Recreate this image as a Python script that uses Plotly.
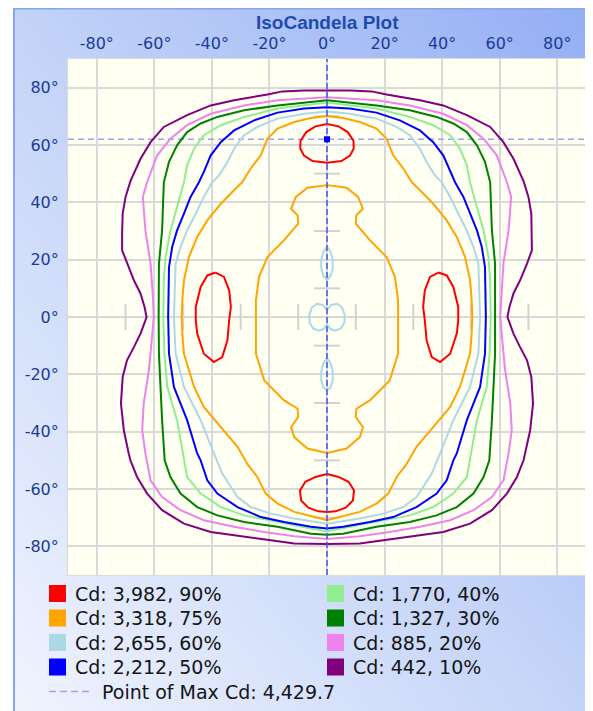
import base64
import plotly.graph_objects as go

# ---------------- data ----------------
level_cd = [3982, 3318, 2655, 2212, 1770, 1327, 885, 442]
level_pct = [90, 75, 60, 50, 40, 30, 20, 10]
level_color = ["#ff0000", "#ffa500", "#add8e6", "#0000ff", "#90ee90", "#008000", "#ee82ee", "#800080"]
max_cd = 4429.7
max_point_h = 0.0
max_point_v = 62.0

axis_ticks = [-80, -60, -40, -20, 0, 20, 40, 60, 80]
minor_ticks = [-70, -50, -30, -10, 10, 30, 50, 70]

# right halves (horizontal angle >= 0), traced from top (H=0) down to bottom (H=0)
p10_h = [0, 8, 15.5, 20.7, 32.3, 40.4, 48.6, 56.7, 61.3, 64.8, 68.3, 70.0, 71.0, 71.2, 71.2, 69.5, 67.1, 64.8, 63.4, 62.7,
         63.1, 64.8, 67.1, 69.5, 71.0, 71.6, 70.6, 68.9, 68.3, 66.0, 62.5, 57.3, 49.7, 40.4, 28.8, 19.5, 11.4, 0]
p10_v = [79.0, 79.0, 78.7, 77.6, 75.6, 73.8, 70.4, 66.3, 61.0, 55.2, 47.4, 41.9, 36.1, 29.1, 23.3, 18.6, 12.8, 8.2, 3.5, 0,
         -1.2, -5.8, -10.5, -15.1, -20.9, -30.2, -39.5, -47.6, -50.0, -55.8, -61.6, -67.4, -72.1, -75.0, -76.7, -77.9, -79.0, -79.2]

p20_h = [0, 5.6, 17.2, 28.8, 40.4, 48.6, 54.4, 59.0, 62.5, 64.0, 63.1, 61.3, 60.5, 60.2, 60.8, 61.9, 63.7, 64.2, 63.1,
         61.3, 57.3, 50.9, 42.8, 32.3, 21.8, 11.4, 0]
p20_v = [76.7, 76.4, 75.6, 73.8, 70.9, 66.9, 62.2, 56.4, 47.1, 41.9, 30.2, 18.6, 7.0, 0, -7.0, -18.6, -30.2, -39.5, -47.6,
         -57.0, -62.8, -67.4, -70.9, -73.2, -75.0, -76.5, -77.4]

p30_h = [0, 5.6, 17.2, 28.8, 38.1, 43.9, 48.6, 52.1, 54.9, 56.7, 57.3, 58.4, 58.5, 58.4, 57.3, 56.4, 54.4, 50.9, 45.1,
         38.1, 28.8, 17.2, 5.6, 0]
p30_v = [75.6, 75.0, 73.8, 72.1, 69.8, 67.5, 64.5, 59.9, 54.1, 47.0, 30.2, 18.6, 0, -12.8, -36.0, -50.0, -55.8, -61.6, -66.3,
         -69.2, -71.5, -73.2, -75.6, -76.0]

p40_h = [0, 5.6, 17.2, 28.8, 36.9, 42.8, 46.2, 48.6, 49.7, 52.1, 54.4, 56.1, 56.7, 56.9, 56.5, 55.5, 52.1, 49.8, 48.6,
         43.9, 36.9, 28.8, 17.2, 5.6, 0]
p40_v = [74.8, 74.1, 72.7, 69.8, 66.9, 63.4, 58.7, 52.9, 47.0, 38.4, 30.2, 20.9, 12.8, 0, -12.8, -24.4, -36.0, -49.0, -55.8,
         -61.6, -66.3, -69.2, -71.5, -73.8, -74.7]

p50_h = [0, 7.9, 17.2, 25.3, 32.3, 36.9, 40.4, 42.8, 44.5, 47.4, 49.7, 52.1, 53.8, 54.9, 55.2, 54.9, 53.2, 48.6, 45.1,
         43.9, 41.6, 38.1, 31.1, 23.0, 14.9, 5.6, 0]
p50_v = [73.2, 72.7, 71.3, 68.6, 65.1, 61.0, 56.4, 50.6, 47.0, 41.9, 36.1, 30.2, 24.4, 17.4, 0, -12.8, -24.4, -36.0, -47.6,
         -50.0, -57.0, -61.6, -66.3, -69.8, -71.5, -73.2, -73.8]

p60_h = [0, 7.9, 17.2, 24.2, 28.8, 32.3, 34.6, 37.5, 39.9, 42.8, 45.6, 48.6, 50.9, 52.6, 53.2, 52.6, 49.7, 43.9, 39.3,
         36.4, 33.4, 31.1, 26.5, 19.5, 11.4, 0]
p60_v = [71.7, 70.9, 69.2, 66.3, 63.4, 58.7, 54.1, 49.4, 47.0, 41.9, 36.1, 30.2, 24.4, 18.6, 0, -12.8, -24.4, -36.0, -47.6,
         -54.6, -59.3, -62.8, -66.3, -68.6, -70.3, -72.1]
p60_upper_h = [0, 1.3, 2.0, 2.0, 1.3, 0]
p60_upper_v = [24.6, 22.5, 20.0, 17.0, 14.5, 12.8]
p60_lower_h = [0, 1.3, 2.0, 2.0, 1.3, 0]
p60_lower_v = [-14.2, -16.3, -19.0, -22.0, -24.5, -25.6]
p60_center_h = [0, 1.5, 3.5, 5.3, 6.2, 6.0, 4.8, 3.0, 1.2, 0]
p60_center_v = [2.5, 4.2, 4.6, 3.2, 0.5, -2.0, -4.0, -4.8, -4.2, -2.5]

p75_outer_h = [0, 5.6, 11.4, 17.2, 20.7, 23.0, 26.5, 29.5, 32.3, 36.9, 41.6, 45.1, 48.0, 49.7, 50.2, 50.5, 50.2, 49.7,
               46.2, 42.8, 36.9, 31.1, 27.5, 24.2, 21.3, 17.2, 11.4, 3.3, 0]
p75_outer_v = [70.1, 69.4, 68.0, 65.7, 62.2, 56.4, 51.8, 47.0, 44.2, 39.5, 33.7, 27.9, 20.9, 12.8, 7.0, 0, -7.0, -12.8,
               -24.4, -31.4, -38.4, -45.3, -51.5, -55.8, -61.6, -65.1, -68.0, -70.0, -70.9]
p75_inner_h = [0, 6.8, 10.8, 12.5, 10.2, 10.0, 14.9, 20.7, 23.6, 24.7, 24.7, 24.7, 21.8, 14.9, 10.2, 10.0, 12.5, 11.4, 6.8, 0]
p75_inner_v = [46.0, 45.1, 41.9, 37.8, 35.5, 32.6, 26.8, 20.9, 14.0, 5.8, 0, -12.8, -22.1, -29.1, -32.0, -34.9, -38.4, -41.9,
               -45.9, -47.4]

p90_top_h = [0, 4.0, 7.2, 9.2, 9.3, 8.0, 5.0, 0]
p90_top_v = [67.3, 66.5, 64.5, 61.5, 58.8, 56.3, 54.4, 53.8]
p90_bottom_h = [0, 4.0, 7.5, 9.4, 9.0, 6.5, 3.0, 0]
p90_bottom_v = [-54.8, -55.8, -57.5, -60.5, -64.0, -66.5, -67.8, -68.0]
p90_side_h = [38.7, 41.6, 43.9, 45.6, 45.6, 45.1, 42.8, 39.3, 36.4, 34.6, 34.0, 33.4, 34.0, 35.8, 38.7]
p90_side_v = [15.5, 14.5, 10.5, 3.5, -1.2, -5.8, -12.8, -15.7, -14.0, -8.1, -1.2, 3.5, 9.3, 14.0, 15.5]


# ---------------- helpers ----------------
def mirror_closed(h, v):
    return list(h) + [-x for x in reversed(h)], list(v) + list(reversed(v))


def mirror_copy(h, v):
    return [-x for x in h], list(v)


def join(*pieces):
    xs, ys = [], []
    for (h, v) in pieces:
        if xs:
            xs.append(None)
            ys.append(None)
        xs += list(h)
        ys += list(v)
    return xs, ys


level_shapes = {
    90: join(mirror_closed(p90_top_h, p90_top_v), mirror_closed(p90_bottom_h, p90_bottom_v),
             (p90_side_h, p90_side_v), mirror_copy(p90_side_h, p90_side_v)),
    75: join(mirror_closed(p75_outer_h, p75_outer_v), mirror_closed(p75_inner_h, p75_inner_v)),
    60: join(mirror_closed(p60_h, p60_v), mirror_closed(p60_upper_h, p60_upper_v),
             mirror_closed(p60_lower_h, p60_lower_v), mirror_closed(p60_center_h, p60_center_v)),
    50: join(mirror_closed(p50_h, p50_v)),
    40: join(mirror_closed(p40_h, p40_v)),
    30: join(mirror_closed(p30_h, p30_v)),
    20: join(mirror_closed(p20_h, p20_v)),
    10: join(mirror_closed(p10_h, p10_v)),
}

# ---------------- layout geometry ----------------
# the page body adds an 8px offset; figure sized to fill the rest of the window
OFF = 8
W, H = 593 - OFF, 711 - OFF
PL, PR, PT, PB = 68, 586, 59, 575          # plot area in window pixels
ML, MR, MT, MB = PL - OFF, W - (PR - OFF), PT - OFF, H - (PB - OFF)
PW, PH = W - ML - MR, H - MT - MB


def fx(px):   # window pixel -> paper x
    return (px - PL) / PW


def fy(py):   # window pixel -> paper y
    return (PB - py) / PH


fig = go.Figure()

# minor ticks along the centre cross
TH = 4.5
mt_x, mt_y = [], []
for t in minor_ticks:
    mt_x += [-TH, TH, None, t, t, None]
    mt_y += [t, t, None, -TH, TH, None]
fig.add_trace(go.Scatter(x=mt_x, y=mt_y, mode="lines", line=dict(color="#d2d2d2", width=2),
                         hoverinfo="skip", showlegend=False))

# max horizontal dashed line
fig.add_trace(go.Scatter(x=[-90, 90], y=[max_point_v, max_point_v], mode="lines",
                         line=dict(color="#9ea2f2", width=1.5, dash="6px,4px"),
                         hoverinfo="skip", showlegend=False))

# contours (outer first)
for pct, col in reversed(list(zip(level_pct, level_color))):
    xs, ys = level_shapes[pct]
    fig.add_trace(go.Scatter(x=xs, y=ys, mode="lines", line=dict(color=col, width=2),
                             hoverinfo="skip", showlegend=False))

# centre line drawn on top of contours
fig.add_trace(go.Scatter(x=[max_point_h, max_point_h], y=[-90, 90], mode="lines",
                         line=dict(color="#3c56f0", width=1.5, dash="6px,3px"),
                         hoverinfo="skip", showlegend=False))
fig.add_trace(go.Scatter(x=[max_point_h], y=[max_point_v], mode="markers",
                         marker=dict(symbol="square", size=6, color="#0000ee"),
                         hoverinfo="skip", showlegend=False))

# ---------------- background panel (gradient) ----------------
pan_w, pan_h = 593 - 13, 711 - OFF
svg = (f"<svg xmlns='http://www.w3.org/2000/svg' width='{pan_w}' height='{pan_h}' viewBox='0 0 {pan_w} {pan_h}' "
       "preserveAspectRatio='none'><defs><linearGradient id='g' x1='0' y1='1' x2='1' y2='0'>"
       "<stop offset='0' stop-color='#f0f4fe'/><stop offset='0.5' stop-color='#c3d3f8'/>"
       "<stop offset='1' stop-color='#93aef4'/></linearGradient></defs>"
       f"<rect x='0' y='0' width='{pan_w}' height='{pan_h}' fill='url(#g)'/>"
       f"<rect x='0' y='0' width='2' height='{pan_h}' fill='#86a5f2'/>"
       f"<rect x='0' y='0' width='{pan_w}' height='1.5' fill='#86a5f2'/></svg>")
src = "data:image/svg+xml;base64," + base64.b64encode(svg.encode()).decode()
fig.add_layout_image(dict(source=src, xref="paper", yref="paper", x=fx(13), y=fy(OFF),
                          sizex=pan_w / PW, sizey=pan_h / PH, xanchor="left", yanchor="top",
                          sizing="stretch", layer="below"))

shapes = [dict(type="rect", xref="paper", yref="paper", x0=0, x1=1, y0=0, y1=1,
               fillcolor="#fffff2", line=dict(width=0), layer="below")]

# ---------------- legend (manual) ----------------
TXT = "DejaVu Sans"
row_y = [593.5, 618, 642.5, 667]
annotations = []
for i, (cd, pct, col) in enumerate(zip(level_cd, level_pct, level_color)):
    colx = 0 if i < 4 else 1
    r = i % 4
    sx = 49 if colx == 0 else 327
    tx = 73 if colx == 0 else 351
    cy = row_y[r]
    shapes.append(dict(type="rect", xref="paper", yref="paper", x0=fx(sx), x1=fx(sx + 17),
                       y0=fy(cy + 8.5), y1=fy(cy - 8.5), fillcolor=col, line=dict(width=0)))
    annotations.append(dict(xref="paper", yref="paper", x=fx(tx), y=fy(cy), xanchor="left", yanchor="middle",
                            text=f"Cd: {cd:,}, {pct}%", showarrow=False,
                            font=dict(family=TXT, size=19, color="#151515")))
my = 691.5
shapes.append(dict(type="line", xref="paper", yref="paper", x0=fx(49), x1=fx(92), y0=fy(my), y1=fy(my),
                   line=dict(color="#9ea2f2", width=1.5, dash="7px,4px")))
annotations.append(dict(xref="paper", yref="paper", x=fx(100), y=fy(my), xanchor="left", yanchor="middle",
                        text=f"Point of Max Cd: {max_cd:,.1f}", showarrow=False,
                        font=dict(family=TXT, size=19, color="#151515")))

# title
annotations.append(dict(xref="paper", yref="paper", x=fx(327), y=fy(22), xanchor="center", yanchor="middle",
                        text="<b>IsoCandela Plot</b>", showarrow=False,
                        font=dict(family="Liberation Sans", size=19, color="#1b4cae")))

tick_text = [f"{t}°" for t in axis_ticks]
axis_common = dict(range=[-90, 90], tickvals=axis_ticks, ticktext=tick_text, showgrid=True,
                   gridcolor="#d9d9d9", gridwidth=2, zeroline=False, showline=True, mirror=True,
                   linecolor="#d9d9d9", linewidth=1, ticks="", fixedrange=True, automargin=False,
                   tickfont=dict(family=TXT, size=16, color="#1c3a9a"))

fig.update_layout(
    width=W, height=H,
    margin=dict(l=ML, r=MR, t=MT, b=MB, pad=0, autoexpand=False),
    paper_bgcolor="#ffffff",
    plot_bgcolor="rgba(0,0,0,0)",
    xaxis=dict(side="top", ticklabelstandoff=3, **axis_common),
    yaxis=dict(ticklabelstandoff=5, **axis_common),
    shapes=shapes,
    annotations=annotations,
    showlegend=False,
)

fig.write_html("out.html")
